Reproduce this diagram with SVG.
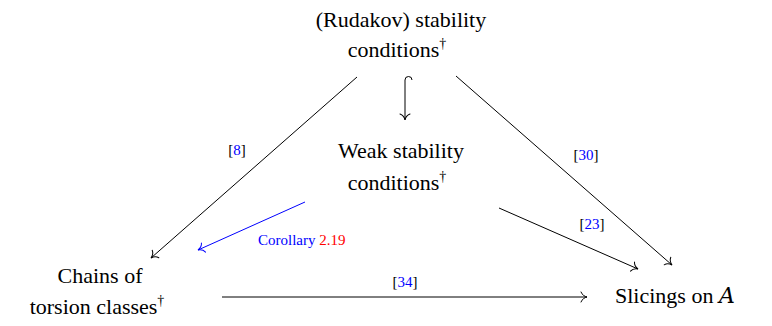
<svg xmlns="http://www.w3.org/2000/svg" width="772" height="326" viewBox="0 0 772 326">
<defs>
<marker id="ah" viewBox="-8 -6 10 12" refX="0" refY="0" markerWidth="10" markerHeight="12" markerUnits="userSpaceOnUse" orient="auto">
<path d="M-6,-5 C-5,-2 -2,-0.5 0,0 C-2,0.5 -5,2 -6,5" fill="none" stroke="#000" stroke-width="1" stroke-linecap="round"/>
</marker>
<marker id="ahb" viewBox="-8 -6 10 12" refX="0" refY="0" markerWidth="10" markerHeight="12" markerUnits="userSpaceOnUse" orient="auto">
<path d="M-6,-5 C-5,-2 -2,-0.5 0,0 C-2,0.5 -5,2 -6,5" fill="none" stroke="#00f" stroke-width="1" stroke-linecap="round"/>
</marker>
</defs>
<rect width="772" height="326" fill="#fff"/>
<g id="rudakov">
<text x="401" y="27" font-family="Liberation Serif" font-size="22" text-anchor="middle" fill="#000">(Rudakov) stability</text>
<text x="397" y="57" font-family="Liberation Serif" font-size="22" text-anchor="middle" fill="#000">conditions<tspan font-size="14" dy="-9" fill="#000">†</tspan></text>
</g>
<g id="weak">
<text x="401" y="158" font-family="Liberation Serif" font-size="22" text-anchor="middle" fill="#000">Weak stability</text>
<text x="397" y="190" font-family="Liberation Serif" font-size="22" text-anchor="middle" fill="#000">conditions<tspan font-size="14" dy="-9" fill="#000">†</tspan></text>
</g>
<g id="chains">
<text x="100" y="283" font-family="Liberation Serif" font-size="22" text-anchor="middle" fill="#000">Chains of</text>
<text x="97" y="314" font-family="Liberation Serif" font-size="22" text-anchor="middle" fill="#000">torsion classes<tspan font-size="14" dy="-9" fill="#000">†</tspan></text>
</g>
<g id="slicings">
<text x="615" y="303" font-family="Liberation Serif" font-size="22" fill="#000">Slicings on <tspan font-family="DejaVu Serif" font-style="italic">A</tspan></text>
</g>
<g id="connectors" fill="none" stroke="#000" stroke-width="1">
<path d="M357,77 L151,258" marker-end="url(#ah)"/>
<path d="M456,76 L672,265" marker-end="url(#ah)"/>
<path d="M412,80 A3.5,3.5 0 0 0 405,80 L405,120" marker-end="url(#ah)"/>
<path d="M499,208 L638,269" marker-end="url(#ah)"/>
<path d="M222,297 L587,297" marker-end="url(#ah)"/>
<path stroke="#00f" d="M305,202 L198,250" marker-end="url(#ahb)"/>
<text x="237" y="155" font-family="Liberation Serif" font-size="15" text-anchor="middle" fill="#00f" stroke="none"><tspan fill="#000">[</tspan>8<tspan fill="#000">]</tspan></text>
<text x="586" y="160" font-family="Liberation Serif" font-size="15" text-anchor="middle" fill="#00f" stroke="none"><tspan fill="#000">[</tspan>30<tspan fill="#000">]</tspan></text>
<text x="592" y="229" font-family="Liberation Serif" font-size="15" text-anchor="middle" fill="#00f" stroke="none"><tspan fill="#000">[</tspan>23<tspan fill="#000">]</tspan></text>
<text x="405" y="287" font-family="Liberation Serif" font-size="15" text-anchor="middle" fill="#00f" stroke="none"><tspan fill="#000">[</tspan>34<tspan fill="#000">]</tspan></text>
<text x="258" y="245" font-family="Liberation Serif" font-size="15" fill="#00f" stroke="none">Corollary <tspan fill="#f00">2.19</tspan></text>
</g>
</svg>
